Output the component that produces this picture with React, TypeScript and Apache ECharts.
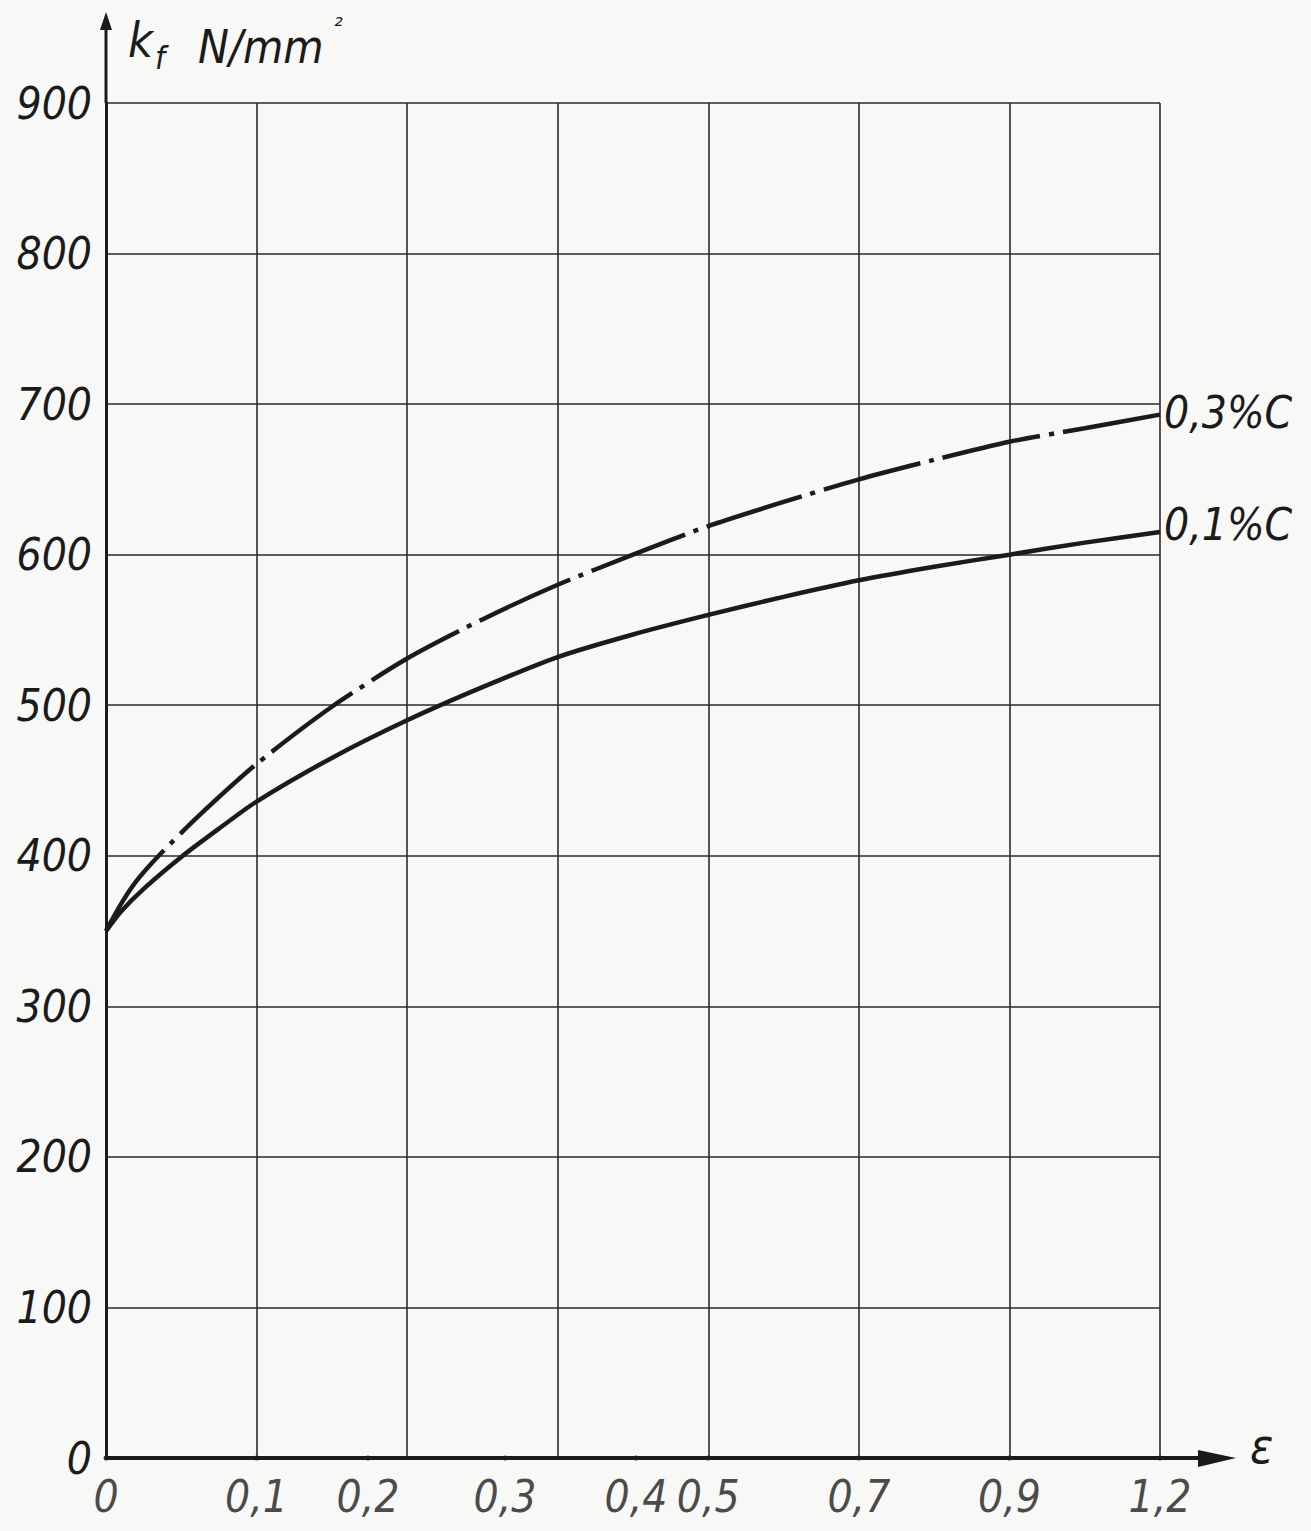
import React, { useEffect, useRef } from "react";
import * as echarts from "echarts";

// ---- data -------------------------------------------------------------
// The ε-axis of the original drawing is not linear: its grid lines are equally
// spaced "positions" 0..7; the ε tick labels sit at these positions.
const xTickLabels = ["0", "0,1", "0,2", "0,3", "0,4", "0,5", "0,7", "0,9", "1,2"];
const xTickPositions = [0, 1, 1.74, 2.65, 3.52, 4, 5, 6, 7];

// k_f (N/mm²) for 0,1 % C, read at axis positions
const pos01 = [0, 0.1, 0.25, 0.51, 0.75, 1, 1.5, 2, 2.5, 3, 3.5, 4, 4.5, 5, 5.5, 6, 6.5, 7];
const kf01 = [350, 363, 378, 400, 418, 436, 465, 490, 512, 532, 547, 560, 572, 583, 592, 600, 608, 615];

// k_f (N/mm²) for 0,3 % C
const pos03 = [0, 0.1, 0.2, 0.35, 0.6, 1, 1.5, 2, 2.5, 3, 3.5, 4, 4.5, 5, 5.5, 6, 6.5, 7];
const kf03 = [350, 368, 383, 400, 425, 461, 499, 531, 557, 580, 600, 619, 635, 650, 663, 675, 684, 693];

const yMin = 0;
const yMax = 900;
const yStep = 100;

// ---- layout -----------------------------------------------------------
const W = 1311;
const H = 1531;
const GRID = { left: 106, top: 103, right: 151, bottom: 73 };
const INK = "#1b1b1b";
const FONT = "'DejaVu Sans Condensed', 'Liberation Sans Narrow', 'DejaVu Sans', sans-serif";

export default function App() {
  const ref = useRef<HTMLDivElement>(null);

  useEffect(() => {
    if (!ref.current) return;
    const chart = echarts.init(ref.current, undefined, { renderer: "svg" });

    const axisX = GRID.left;
    const axisY = H - GRID.bottom;
    const plotRight = W - GRID.right;

    const textStyle = {
      fontFamily: FONT,
      fontStyle: "italic" as const,
      fontSize: 44,
      color: INK,
    };

    chart.setOption({
      animation: false,
      backgroundColor: "#f8f8f6",
      grid: { left: GRID.left, right: GRID.right, top: GRID.top, bottom: GRID.bottom, containLabel: false },
      xAxis: {
        type: "value",
        min: 0,
        max: 7,
        interval: 1,
        axisLine: { show: true, lineStyle: { color: INK, width: 4 } },
        axisTick: { show: false },
        axisLabel: { show: false },
        splitLine: { show: true, lineStyle: { color: "#2b2b2b", width: 1.6 } },
      },
      yAxis: {
        type: "value",
        min: yMin,
        max: yMax,
        interval: yStep,
        axisLine: { show: true, lineStyle: { color: INK, width: 3 } },
        axisTick: { show: false },
        axisLabel: { ...textStyle, margin: 14 },
        splitLine: { show: true, lineStyle: { color: "#2b2b2b", width: 1.6 } },
      },
      series: [
        {
          name: "0,1%C",
          type: "line",
          data: pos01.map((p, i) => [p, kf01[i]]),
          smooth: 0.25,
          showSymbol: false,
          lineStyle: { color: INK, width: 4.5 },
          endLabel: {
            show: true,
            formatter: "{a}",
            ...textStyle,
            distance: 4,
            offset: [0, -8],
          },
          z: 5,
        },
        {
          name: "0,3%C",
          type: "line",
          data: pos03.map((p, i) => [p, kf03[i]]),
          smooth: 0.25,
          showSymbol: false,
          lineStyle: { color: INK, width: 4.5, type: [100, 9, 5, 9] },
          endLabel: {
            show: true,
            formatter: "{a}",
            ...textStyle,
            distance: 4,
            offset: [0, -2],
          },
          z: 5,
        },
        {
          name: "εTicks",
          type: "scatter",
          data: xTickPositions.map((p, i) => ({ value: [p, 0], name: xTickLabels[i] })),
          symbol: "circle",
          symbolSize: 5,
          itemStyle: { color: INK },
          clip: false,
          label: {
            show: true,
            position: "bottom",
            distance: 14,
            formatter: "{b}",
            ...textStyle,
          },
          silent: true,
          z: 6,
        },
      ],
      graphic: [
        // y-axis extension with arrow
        { type: "line", shape: { x1: axisX, y1: GRID.top, x2: axisX, y2: 22 }, style: { stroke: INK, lineWidth: 3 } },
        {
          type: "polygon",
          shape: { points: [[axisX, 12], [axisX - 6, 30], [axisX + 6, 30]] },
          style: { fill: INK },
        },
        // x-axis extension with arrow
        { type: "line", shape: { x1: plotRight, y1: axisY, x2: 1205, y2: axisY }, style: { stroke: INK, lineWidth: 4 } },
        {
          type: "polygon",
          shape: { points: [[1198, axisY - 8], [1236, axisY], [1198, axisY + 9]] },
          style: { fill: INK },
        },
        // axis titles
        {
          type: "text",
          x: 1250,
          y: 1446,
          style: { text: "ε", font: `italic 48px ${FONT}`, fill: INK, textVerticalAlign: "middle" },
        },
        {
          type: "text",
          x: 128,
          y: 40,
          style: { text: "k", font: `italic 48px ${FONT}`, fill: INK, textVerticalAlign: "middle" },
        },
        {
          type: "text",
          x: 155,
          y: 58,
          style: { text: "f", font: `italic 32px ${FONT}`, fill: INK, textVerticalAlign: "middle" },
        },
        {
          type: "text",
          x: 198,
          y: 47,
          style: { text: "N/mm", font: `italic 46px ${FONT}`, fill: INK, textVerticalAlign: "middle" },
        },
        {
          type: "text",
          x: 334,
          y: 26,
          style: { text: "²", font: `italic 24px ${FONT}`, fill: INK, textVerticalAlign: "middle" },
        },
      ],
    });

    return () => chart.dispose();
  }, []);

  return (
    <div
      ref={ref}
      style={{ position: "absolute", left: 0, top: 0, width: W, height: H, background: "#f8f8f6" }}
    />
  );
}
